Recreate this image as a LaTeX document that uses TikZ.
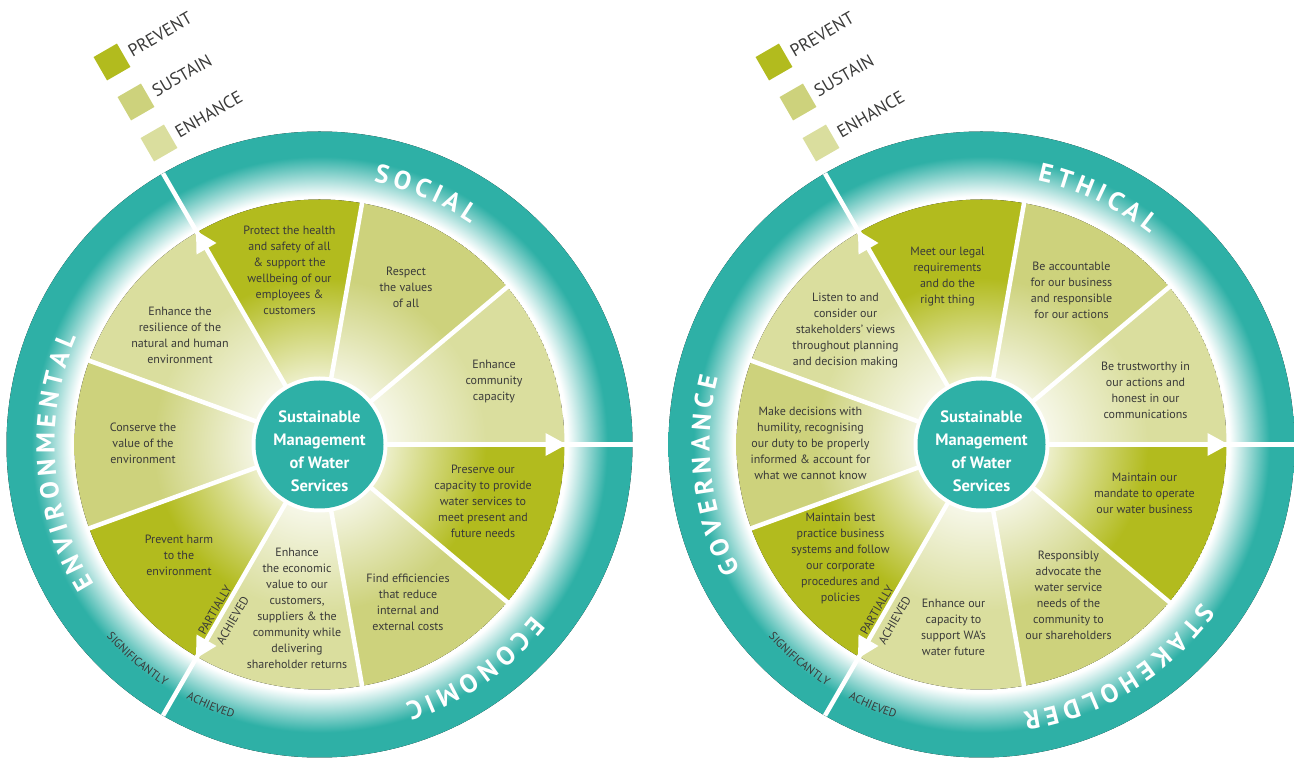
\documentclass[tikz,border=0pt]{standalone}
\usepackage{fontspec}
\setmainfont{PT Sans}
\usetikzlibrary{decorations.text,calc}
\definecolor{teal0}{HTML}{2EB0A6}
\definecolor{prevent}{HTML}{B2BB1E}
\definecolor{sustain}{HTML}{CDD27C}
\definecolor{enhance}{HTML}{DADE9E}
\definecolor{txt}{HTML}{3A3A39}
% TikZ maps the path's bounding box onto the central 50bp square: 25bp = radius
\pgfdeclareradialshading{ringshade}{\pgfpoint{0bp}{0bp}}{color(0bp)=(white); color(19.8bp)=(white); color(23bp)=(teal0); color(50bp)=(teal0)}
\pgfdeclareradialshading{prevshade}{\pgfpoint{0bp}{0bp}}{color(0bp)=(prevent!15!white); color(7bp)=(prevent!25!white); color(17bp)=(prevent); color(50bp)=(prevent)}
\pgfdeclareradialshading{susshade}{\pgfpoint{0bp}{0bp}}{color(0bp)=(sustain!15!white); color(7bp)=(sustain!25!white); color(17bp)=(sustain); color(50bp)=(sustain)}
\pgfdeclareradialshading{enhshade}{\pgfpoint{0bp}{0bp}}{color(0bp)=(enhance!15!white); color(7bp)=(enhance!25!white); color(17bp)=(enhance); color(50bp)=(enhance)}
\newfontfamily\ringfam{PT Sans}
\newcommand\ringfont{\ringfam\bfseries\fontsize{26}{26}\selectfont\fontdimen2\font=4.8pt\relax}
\newcommand\smallfont{\fontsize{11.5}{12}\selectfont}
\tikzset{
  wtext/.style={font=\fontsize{12}{16}\selectfont, text=txt, align=center, inner sep=0pt},
  ctext/.style={font=\bfseries\fontsize{16.5}{23}\selectfont, text=white, align=center, inner sep=0pt},
  legtext/.style={font=\fontsize{17.5}{18}\selectfont, text=txt, rotate=30, anchor=west, inner sep=0pt},
  legbox/.style={minimum size=27pt, inner sep=0pt, rotate=30},
  smalltext/.style={font=\fontsize{12}{12}\selectfont, text=txt, inner sep=0pt},
  divider/.style={white, line width=4.5pt},
}
\newcommand\wheelbase{%
  \fill[shading=ringshade] (0,0) circle (313pt);
  \foreach \a/\s in {0/enhshade,40/susshade,80/prevshade,120/enhshade,160/susshade,200/prevshade,240/enhshade,280/susshade,320/prevshade}{%
    \begin{scope}
      \pgfmathsetmacro\b{\a+40}
      \clip (0,0) -- (\a:245pt) arc[start angle=\a, end angle=\b, radius=245pt] -- cycle;
      \fill[shading=\s] (0,0) circle (245pt);
    \end{scope}}
  \foreach \a in {40,80,160,200,280,320}{\draw[divider] (0,0) -- (\a:247pt);}
  \foreach \a in {0,120,240}{%
    \pgfmathsetmacro\p{\a+90}\pgfmathsetmacro\q{\a-90}
    \draw[divider] (0,0) -- (\a:313pt);
    \fill[white] (\a:247pt) -- ($(\a:226pt)+(\p:11.5pt)$) -- ($(\a:226pt)+(\q:11.5pt)$) -- cycle;}
  \fill[white] (0,0) circle (68pt);
  \fill[teal0] (0,0) circle (64pt);
}
% clockwise ring label: #1 centre angle, #2 radius, #3 text
\newcommand\ringlabel[3]{%
  \pgfmathsetmacro\sa{#1+45}\pgfmathsetmacro\ea{#1-45}
  \path[decorate, decoration={text along path, text align=center, text color=white, text={|\ringfont|#3}}]
    (\sa:#2) arc[start angle=\sa, end angle=\ea, radius=#2];}
% counter-clockwise small label
\newcommand\smalllabel[3]{%
  \pgfmathsetmacro\sa{#1-25}\pgfmathsetmacro\ea{#1+25}
  \path[decorate, decoration={text along path, text align=center, text color=txt, text={|\smallfont|#3}}]
    (\sa:#2) arc[start angle=\sa, end angle=\ea, radius=#2];}
\begin{document}
\begin{tikzpicture}[x=1pt,y=1pt]
\useasboundingbox (0,0) rectangle (1294,758);
% ================= LEFT WHEEL =================
\begin{scope}[shift={(319.5,313.5)}]
  \wheelbase
  \node[ctext] (lc) at (0,-6.5) {Sustainable\\Management\\of Water\\Services};
  \node[wtext] (l1) at (-30,174.5) {Protect the health\\and safety of all\\\& support the\\wellbeing of our\\employees \&\\customers};
  \node[wtext] (l2) at (86.5,157.5) {Respect\\the values\\of all};
  \node[wtext] (l3) at (174.5,62.5) {Enhance\\community\\capacity};
  \node[wtext] (l4) at (163.5,-56.5) {Preserve our\\capacity to provide\\water services to\\meet present and\\future needs};
  \node[wtext] (l5) at (88.5,-157.5) {Find efficiencies\\that reduce\\internal and\\external costs};
  \node[wtext] (l6) at (-22.5,-163.5) {Enhance\\the economic\\value to our\\customers,\\suppliers \& the\\community while\\delivering\\shareholder returns};
  \node[wtext] (l7) at (-140.5,-110.5) {Prevent harm\\to the\\environment};
  \node[wtext] (l8) at (-176.5,1.5) {Conserve the\\value of the\\environment};
  \node[wtext] (l9) at (-139.5,109.5) {Enhance the\\resilience of the\\natural and human\\environment};
  \ringlabel{67}{267.9pt}{S O C I A L}
  \ringlabel{184}{264.9pt}{E N V I R O N M E N T A L}
  \ringlabel{304.7}{272.9pt}{E C O N O M I C}
  \smalllabel{229.7}{287pt}{SIGNIFICANTLY}
  \smalllabel{247.4}{287pt}{ACHIEVED}
  \node[smalltext, rotate=60] (lpa) at ($(240:195.5)+(150:8)$) {PARTIALLY};
  \node[smalltext, rotate=60] (lac) at ($(240:195.5)+(330:12.6)$) {ACHIEVED};
\end{scope}
\node[legbox, fill=prevent] (lsq1) at (112,696) {};
\node[legbox, fill=sustain] (lsq2) at (136,656) {};
\node[legbox, fill=enhance] (lsq3) at (159,615) {};
\node[legtext] (lt1) at ($(lsq1)+(30:20)$) {PREVENT};
\node[legtext] (lt2) at ($(lsq2)+(30:20)$) {SUSTAIN};
\node[legtext] (lt3) at ($(lsq3)+(30:20)$) {ENHANCE};
% ================= RIGHT WHEEL =================
\begin{scope}[shift={(981.5,313.5)}]
  \wheelbase
  \node[ctext] (rc) at (0,-6.5) {Sustainable\\Management\\of Water\\Services};
  \node[wtext] (r1) at (-34,167.5) {Meet our legal\\requirements\\and do the\\right thing};
  \node[wtext] (r2) at (90,154.5) {Be accountable\\for our business\\and responsible\\for our actions};
  \node[wtext] (r3) at (164,54.5) {Be trustworthy in\\our actions and\\honest in our\\communications};
  \node[wtext] (r4) at (163,-48.5) {Maintain our\\mandate to operate\\our water business};
  \node[wtext] (r5) at (87,-150.5) {Responsibly\\advocate the\\water service\\needs of the\\community to\\our shareholders};
  \node[wtext] (r6) at (-28,-182.5) {Enhance our\\capacity to\\support WA’s\\water future};
  \node[wtext] (r7) at (-141,-113.5) {Maintain best\\practice business\\systems and follow\\our corporate\\procedures and\\policies};
  \node[wtext] (r8) at (-171,1.5) {Make decisions with\\humility, recognising\\our duty to be properly\\informed \& account for\\what we cannot know};
  \node[wtext] (r9) at (-136,113.5) {Listen to and\\consider our\\stakeholders’ views\\throughout planning\\and decision making};
  \ringlabel{64.7}{269.3pt}{E T H I C A L}
  \ringlabel{186.7}{271.9pt}{G O V E R N A N C E}
  \ringlabel{301.6}{270.9pt}{S T A K E H O L D E R}
  \smalllabel{229.7}{287pt}{SIGNIFICANTLY}
  \smalllabel{247.4}{287pt}{ACHIEVED}
  \node[smalltext, rotate=60] (rpa) at ($(240:195.5)+(150:8)$) {PARTIALLY};
  \node[smalltext, rotate=60] (rac) at ($(240:195.5)+(330:12.6)$) {ACHIEVED};
\end{scope}
\node[legbox, fill=prevent] (rsq1) at (774,696) {};
\node[legbox, fill=sustain] (rsq2) at (798,656) {};
\node[legbox, fill=enhance] (rsq3) at (821,615) {};
\node[legtext] (rt1) at ($(rsq1)+(30:20)$) {PREVENT};
\node[legtext] (rt2) at ($(rsq2)+(30:20)$) {SUSTAIN};
\node[legtext] (rt3) at ($(rsq3)+(30:20)$) {ENHANCE};
\end{tikzpicture}
\end{document}
